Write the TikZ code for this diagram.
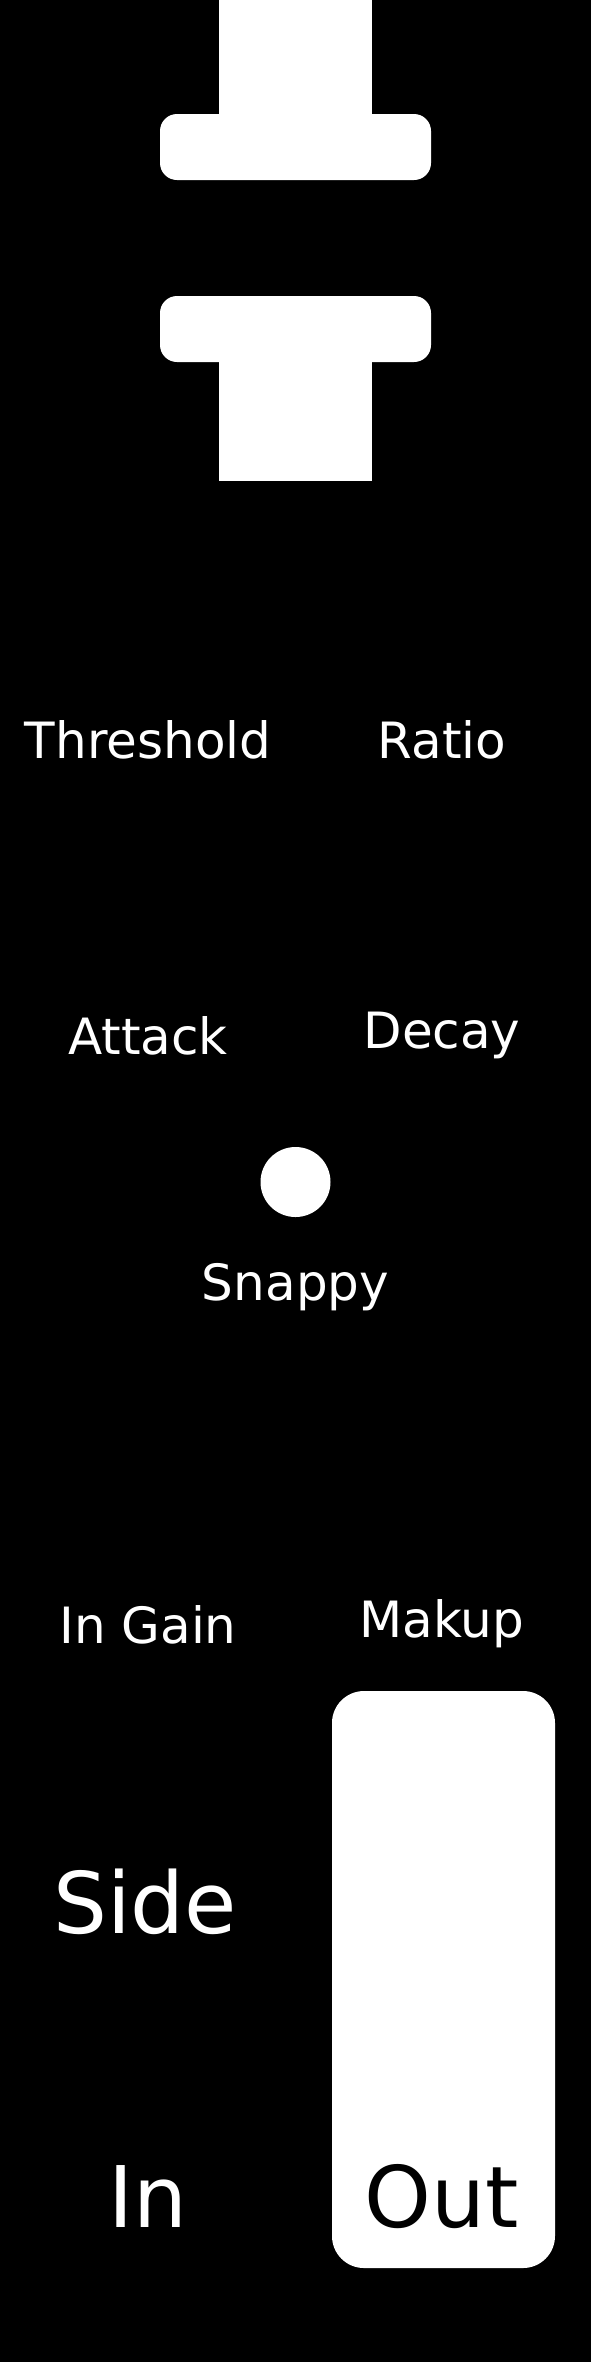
\documentclass[tikz,border=0pt]{standalone}
\usepackage{fontspec}
\setmainfont{DejaVu Sans}
\usepackage{tikz}

\begin{document}
\begin{tikzpicture}[x=1pt, y=-1pt,
    lbl/.style={text=white, anchor=base, inner sep=0pt, font=\fontsize{50}{60}\selectfont},
    biglbl/.style={lbl, font=\fontsize{85}{102}\selectfont},
    part/.style={fill=white}]
    % Panel
    \fill[black] (0,0) rectangle (591,2362);
    \useasboundingbox (0,0) rectangle (591,2362);

    % Top clamp
    \fill[part] (219,0) rectangle (372,120);
    \fill[part, rounded corners=17pt] (160,114) rectangle (431,180);
    % Bottom clamp
    \fill[part, rounded corners=17pt] (160,296) rectangle (431,362);
    \fill[part] (219,355) rectangle (372,481);

    % Switch
    \fill[part] (295.5,1182) circle (35);
    % Output area
    \fill[part, rounded corners=32pt] (332,1691) rectangle (555,2268);

    % Labels
    \node[lbl] (thresh) at (148,758) {Threshold};
    \node[lbl] (ratio) at (442,758) {Ratio};
    \node[lbl] (attack) at (148,1054) {Attack};
    \node[lbl] (decay) at (442,1048) {Decay};
    \node[lbl] (snappy) at (295.5,1300) {Snappy};
    \node[lbl] (ingain) at (148,1643) {In Gain};
    \node[lbl] (makup) at (442,1637) {Makup};
    \node[biglbl] (side) at (145,1933) {Side};
    \node[biglbl] (in) at (148,2227) {In};
    \node[biglbl, text=black] (out) at (442,2227) {Out};
\end{tikzpicture}
\end{document}
